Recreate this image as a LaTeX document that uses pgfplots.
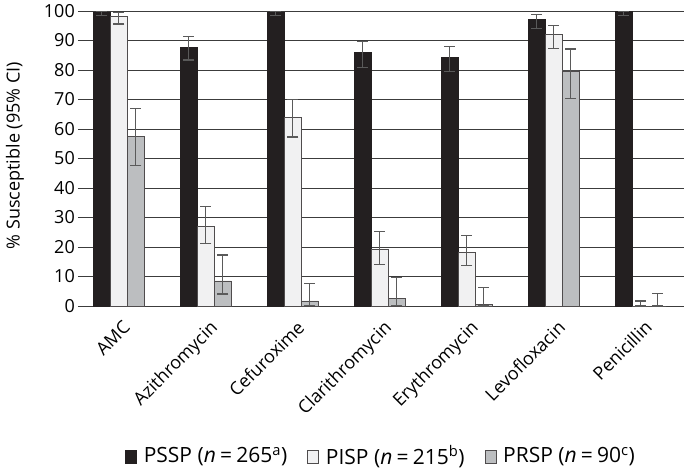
\documentclass[border=0pt]{standalone}
\usepackage{pgfplots}
\pgfplotsset{compat=1.18}
\usepackage{pgfplotstable}
\usepackage{fontspec}
\setmainfont{Open Sans}
\definecolor{cdark}{HTML}{231F20}
\definecolor{clight}{HTML}{F1F1F2}
\definecolor{cgray}{HTML}{BCBEC0}
\definecolor{cgrid}{HTML}{3C3C3C}
\definecolor{cerr}{HTML}{5A5A5A}

% x  y  ep  em
\pgfplotstableread{
x y ep em
0 99.4 0.6 0.9
1 87.7 3.6 4.3
2 99.4 0.6 0.9
3 85.9 3.8 5.0
4 84.2 3.7 4.8
5 97.2 1.6 3.1
6 100.0 0.0 1.4
}\pssp
\pgfplotstableread{
x y ep em
0 98.2 1.3 2.6
1 27.0 6.7 5.8
2 63.8 6.2 6.5
3 19.2 6.1 5.0
4 18.1 5.9 4.5
5 92.2 2.9 4.9
6 0.0 1.7 0.0
}\pisp
\pgfplotstableread{
x y ep em
0 57.5 9.5 9.9
1 8.5 8.8 4.4
2 1.7 5.8 1.4
3 2.6 7.1 2.3
4 0.4 5.9 0.4
5 79.7 7.4 9.4
6 0.0 4.3 0.0
}\prsp
\newcommand{\eq}{\hspace{0.2em}=\hspace{0.2em}}

\begin{document}
\begin{tikzpicture}
\begin{axis}[
  scale only axis,
  width=606pt, height=295pt,
  ybar=0pt, bar width=17pt,
  xmin=-0.47, xmax=6.5,
  ymin=0, ymax=100,
  ytick={0,10,...,100},
  xtick={0,...,6},
  xticklabels={AMC,Azithromycin,Cefuroxime,Clarithromycin,Erythromycin,Levofloxacin,Penicillin},
  axis line style={draw=none},
  major tick length=0pt,
  ymajorgrids,
  grid style={cgrid, line width=0.9pt},
  /pgf/number format/assume math mode=true,
  tick label style={font=\fontsize{18}{21}\selectfont},
  x tick label style={xshift=3pt, yshift=-13pt, rotate=45, anchor=north east, inner sep=0pt},
  yticklabel style={inner sep=3pt},
  ylabel={\% Susceptible (95\% CI)},
  ylabel style={font=\fontsize{18}{21}\selectfont, at={(axis description cs:-0.104,0.51)}, anchor=center},
  legend style={at={(0.5,-0.508)}, anchor=center, draw=none, fill=none,
    font=\fontsize{21}{24}\selectfont, legend columns=3,
    /tikz/every even column/.append style={column sep=18pt}},
  legend image code/.code={\draw[#1, line width=0.7pt] (-5pt,-7pt) rectangle (6pt,6pt);},
  error bars/y dir=both,
  error bars/y explicit,
  error bars/error bar style={cerr, line width=1.2pt},
  error bars/error mark options={rotate=90, mark size=5.5pt, cerr, line width=1.2pt},
]
\addplot[fill=cdark, draw=cdark, line width=0.7pt] table[x=x, y=y, y error plus=ep, y error minus=em] {\pssp};
\addplot[fill=clight, draw=cdark!80, line width=0.7pt] table[x=x, y=y, y error plus=ep, y error minus=em] {\pisp};
\addplot[fill=cgray, draw=cdark!80, line width=0.7pt] table[x=x, y=y, y error plus=ep, y error minus=em] {\prsp};
\legend{\hspace{5pt}PSSP (\textit{n}\eq 265\textsuperscript{a}),\hspace{5pt}PISP (\textit{n}\eq 215\textsuperscript{b}),\hspace{5pt}PRSP (\textit{n}\eq 90\textsuperscript{c})}
\end{axis}
\pgfresetboundingbox
\path ([shift={(-78pt,-166pt)}]current axis.south west) rectangle ([shift={(0pt,11pt)}]current axis.north east);
\end{tikzpicture}
\end{document}
